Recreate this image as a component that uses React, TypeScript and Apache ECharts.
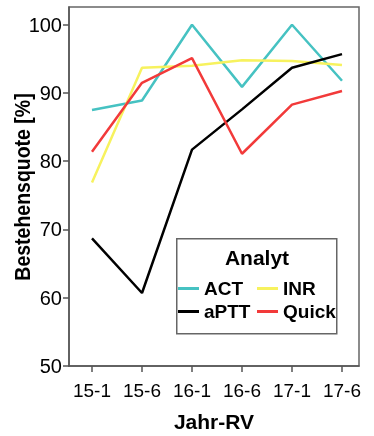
import React, { useEffect, useRef } from "react";
import * as echarts from "echarts";

const categories = ["15-1", "15-6", "16-1", "16-6", "17-1", "17-6"];
const yTicks = [50, 60, 70, 80, 90, 100];
const seriesNames = ["ACT", "INR", "aPTT", "Quick"];
const actValues = [87.5, 88.9, 100, 90.9, 100, 91.8];
const inrValues = [76.9, 93.7, 94.0, 94.8, 94.7, 94.1];
const apttValues = [68.7, 60.7, 81.7, 87.6, 93.7, 95.7];
const quickValues = [81.4, 91.5, 95.1, 81.1, 88.3, 90.3];

const colors = ["#46C2C2", "#F7F25E", "#000000", "#F23A3A"];
const FONT = "'Liberation Sans', Arial, sans-serif";

export default function App() {
  const ref = useRef<HTMLDivElement>(null);
  useEffect(() => {
    if (!ref.current) return;
    const chart = echarts.init(ref.current, undefined, { renderer: "svg" });
    const values = [actValues, inrValues, apttValues, quickValues];
    const xIdx = categories.map((_, i) => i);
    const legendPos = [
      { left: 178, top: 278 },
      { left: 257, top: 278 },
      { left: 178, top: 301 },
      { left: 257, top: 301 },
    ];
    chart.setOption({
      animation: false,
      textStyle: { fontFamily: FONT },
      grid: {
        left: 69,
        top: 7,
        right: 15,
        bottom: 70,
        show: true,
        borderColor: "#666",
        borderWidth: 1.5,
        backgroundColor: "transparent",
        outerBoundsMode: "none",
      },
      xAxis: {
        type: "value",
        min: -0.46,
        max: 5.34,
        name: "Jahr-RV",
        nameLocation: "middle",
        nameGap: 45,
        nameTextStyle: { fontFamily: FONT, fontSize: 21, fontWeight: "bold", color: "#000" },
        axisLine: { show: true, onZero: false, lineStyle: { color: "#555", width: 1.5 } },
        axisTick: { show: true, inside: false, length: 6, customValues: xIdx, lineStyle: { color: "#555", width: 1.5 } },
        axisLabel: {
          customValues: xIdx,
          margin: 15,
          fontSize: 19,
          color: "#000",
          fontFamily: FONT,
          formatter: (v: number) => categories[Math.round(v)] ?? "",
        },
        splitLine: { show: false },
      },
      yAxis: {
        type: "value",
        min: 50,
        max: 102.6,
        axisLine: { show: true, onZero: false, lineStyle: { color: "#555", width: 1.5 } },
        axisTick: { show: true, inside: false, length: 6, customValues: yTicks, lineStyle: { color: "#555", width: 1.5 } },
        axisLabel: { customValues: yTicks, margin: 7, fontSize: 20, color: "#000", fontFamily: FONT },
        splitLine: { show: false },
      },
      legend: seriesNames.map((n, i) => ({
        data: [n],
        left: legendPos[i].left,
        top: legendPos[i].top,
        padding: 0,
        icon: "rect",
        itemWidth: 21,
        itemHeight: 3,
        selectedMode: false,
        z: 10,
        textStyle: { fontFamily: FONT, fontSize: 19, fontWeight: "bold", color: "#000", lineHeight: 21 },
      })),
      graphic: [
        {
          type: "rect",
          left: 176,
          top: 238,
          shape: { width: 160, height: 95 },
          style: { fill: "#fff", stroke: "#666", lineWidth: 1.5 },
          z: 5,
        },
        {
          type: "text",
          x: 257,
          y: 257,
          style: {
            text: "Analyt",
            fill: "#000",
            font: `bold 21px ${FONT}`,
            align: "center",
            verticalAlign: "middle",
          },
          z: 6,
        },
        {
          type: "text",
          x: 22,
          y: 187,
          rotation: Math.PI / 2,
          scaleY: 1.15,
          style: {
            text: "Bestehensquote [%]",
            fill: "#000",
            font: `bold 19.5px ${FONT}`,
            align: "center",
            verticalAlign: "middle",
          },
        },
      ],
      series: seriesNames.map((n, i) => ({
        name: n,
        type: "line",
        showSymbol: false,
        symbol: "none",
        data: values[i].map((v, j) => [j, v]),
        lineStyle: { color: colors[i], width: 2.5 },
        itemStyle: { color: colors[i] },
        z: 2,
      })),
    });
    return () => chart.dispose();
  }, []);
  return <div ref={ref} style={{ position: "fixed", left: 0, top: 0, width: 374, height: 436 }} />;
}
